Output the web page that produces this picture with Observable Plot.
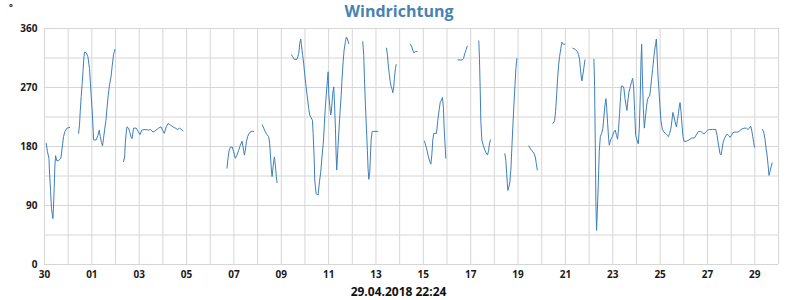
<!DOCTYPE html>
<html>
<head>
<meta charset="utf-8">
<script src="https://cdn.jsdelivr.net/npm/d3@7"></script>
<script src="https://cdn.jsdelivr.net/npm/@observablehq/plot@0.6"></script>
<style>
  html, body { margin: 0; padding: 0; background: #fff; }
  #wrap { position: relative; width: 800px; height: 300px; overflow: hidden; font-family: "Open Sans", sans-serif; }
  #chart { position: absolute; left: 0; top: 0; }
  #title { position: absolute; left: 0; top: 0; width: 798px; text-align: center; font-weight: bold; font-size: 16px; line-height: 22px; color: #4682b4; }
  #unit { position: absolute; left: 9px; top: 0; font-size: 9px; line-height: 13px; font-weight: bold; color: #222; }
  #caption { position: absolute; left: 0; top: 285px; width: 797px; text-align: center; font-weight: bold; font-size: 12px; line-height: 14px; color: #111; }
</style>
</head>
<body>
<div id="wrap">
  <div id="chart"></div>
  <div id="title">Windrichtung</div>
  <div id="unit">°</div>
  <div id="caption">29.04.2018 22:24</div>
</div>
<script>
// start of the period (left edge of the chart), UTC
const startMs = Date.UTC(2018, 3, 29, 22, 24);
const hourMs = 3600e3;
const dayMs = 864e5;

// x-axis tick labels (every second day) and their day offsets
const tickDays   = [0, 2, 4, 6, 8, 10, 12, 14, 16, 18, 20, 22, 24, 26, 28, 30];
const tickLabels = ["30","01","03","05","07","09","11","13","15","17","19","21","23","25","27","29"];
// y-axis labels and grid
const yTicks = [0, 90, 180, 270, 360];
const yGrid  = [0, 45, 90, 135, 180, 225, 270, 315, 360];
const dayGrid = d3.range(0, 32);

// measurement time (hours after start) and wind direction (degrees); null = no data
const hours = [
  1.7,3.0,4.5,5.1,6.1,7.1,8.5,9.1,9.8,10.5,11.2,12.6,14.6,16.6,18.0,19.3,20.7,22.7,25.4, 30,
  34.5,35.5,36.2,37.2,38.2,39.0,40.0,40.6,42.3,44.0,45.6,47.1,48.4,49.4,49.7,52.4,54.2,55.5,56.5,57.8,58.8,59.8,60.9,62.3,63.3,64.6,65.9,67.4,68.7,70.0,71.4, 76,
  80.1,81.2,81.9,82.9,83.6,85.2,86.2,87.6,88.7,90.3,93.0,95.0,96.8,98.6,101.7,105.5,107.2,110.0,112.3,115.6,118.1,119.7,121.4,123.4,125.2,127.5,130.2,132.6,134.9,136.9,138.7,140.4, 160,
  185.0,186.0,187.1,188.4,190.4,191.7,193.4,195.2,196.8,198.5,200.2,201.3,202.6,203.6,204.6,205.9,207.3,209.4,212.0, 216,
  220.8,222.2,223.9,225.6,227.2,228.2,229.0,230.0,230.7,231.7,233.0,234.0,235.0,235.7, 243,
  250.3,251.6,253.0,256.0,257.7,258.7,259.7,260.4,261.7,262.7,
  263.7,264.8,265.8,266.8,267.8,268.8,270.2,271.6,272.3,273.3,
  273.9,275.3,277.3,278.7,280.0,281.4,282.7,283.7,284.7,285.8,
  286.8,287.5,288.1,289.1,290.1,290.8,291.5,292.1,293.2,293.9,
  294.9,295.6,296.2,296.9,297.6,298.6,299.6,300.7,301.7,302.7,
  303.7,305.0,306.0,307.0,308.4, 315,
  322.6,323.6,324.3,325.3,326.3,327.3,328.0,328.7,329.7,330.4,331.1,332.1,333.7,337.8, 342,
  346.6,347.6,348.3,349.4,350.4,351.4,352.4,353.0,354.0,354.7,355.7,356.5, 364,
  371.0,372.3,373.3,374.3,376.1,377.8, 381,
  385.2,386.5,387.9,389.2,390.5,391.6,392.6,393.6,394.6,397.3,398.7,400.1,401.1,402.4,403.4,404.4,405.1,406.2,406.8, 413,
  419.0,423.4,424.7,426.0,427.5,428.5, 434,
  440.2,440.9,441.6,442.3,443.3,444.7,446.0,447.4,449.1,450.1,451.1,452.1, 460,
  466.6,467.6,468.4,469.1,469.7,470.7,471.7,472.7,473.7,474.7,475.8,476.8,477.8,478.8, 485,
  491.0,492.7,494.4,496.0,497.5,498.5,499.5, 507,
  515.3,517.0,518.0,519.1,520.1,521.1,522.1,523.4,524.4,525.9,527.2, 531,
  535.6,538.0,540.1,541.4,542.4,543.1,544.1,544.7,545.7,546.8,547.8, 552,
  556.9,557.6,558.3,558.9,559.6,560.3,561.3,562.3,563.4,564.7,
  566.0,567.0,568.1,569.1,569.8,570.8,571.8,572.5,573.8,575.5,
  577.1,578.5,579.8,580.9,581.9,582.9,583.9,584.7,586.3,587.3,
  588.4,589.4,590.4,591.4,592.4,593.8,595.1,596.2,597.2,598.2,
  599.2,600.5,601.9,602.9,603.9,604.6,605.3,606.0,607.0,608.0,
  609.1,610.1,611.1,612.4,613.4,614.4,615.4,616.5,617.5,618.5,
  619.5,620.2,620.8,621.8,622.8,623.8,624.8,626.3,627.9,629.6,
  631.4,632.4,633.7,635.0,636.0,637.0,638.1,639.1,640.5,641.5,
  642.6,643.2,644.2,645.2,646.2,647.2,648.2,650.7,653.3,656.0,
  658.8,660.8,662.8,665.1,666.8,668.5,670.2,672.2,674.3,677.0,
  680.4,681.7,682.7,683.7,684.7,685.8,686.8,687.8,689.2,690.5,
  691.8,693.3,694.9,696.3,697.6,699.4,702.4,704.0,706.1,709.1,
  711.5,713.1,714.5,715.8,716.8,717.9,718.9,719.6, 724,
  728.0,729.3,730.4,731.4,732.4,733.4,734.4,735.4,736.5,737.5
];
const direction = [
  185,172,162,141,113,85,70,86,116,149,166,158,159,162,179,195,203,208,209, null,
  200,213,233,256,276,294,317,324,323,317,299,263,233,203,190,190,197,205,195,186,181,192,205,220,238,258,274,286,304,320,328, null,
  157,164,185,202,210,208,203,195,192,208,208,203,198,205,206,205,206,202,204,208,210,205,200,210,215,213,210,208,206,208,206,204, null,
  147,162,174,179,179,172,162,167,174,182,188,179,167,174,187,195,200,203,203, null,
  213,208,202,198,195,185,167,144,134,149,164,152,134,125, null,
  320,317,313,313,322,337,344,335,319,307,
  291,276,263,251,238,228,224,220,200,164,
  129,108,106,126,141,167,187,215,240,263,
  281,294,261,243,228,234,248,261,271,248,
  208,167,144,164,182,208,233,258,286,309,
  327,340,347,344,337, null,
  340,319,284,243,208,174,146,130,141,167,190,203,203,203, null,
  330,320,307,291,279,271,267,262,271,284,299,305, null,
  336,332,327,323,325,325, null,
  188,181,173,164,157,153,167,190,200,200,220,237,247,251,255,238,208,178,162, null,
  312,312,314,322,328,333, null,
  341,314,269,218,190,182,176,171,167,174,185,190, null,
  169,159,141,124,113,118,126,144,177,210,243,271,299,314, null,
  181,176,173,170,164,154,144, null,
  215,219,233,258,284,304,317,330,339,336,336, null,
  330,328,325,320,312,300,286,280,289,301,312, null,
  313,271,182,96,52,80,121,172,195,200,
  208,225,243,253,240,215,192,182,190,195,
  202,205,197,191,208,230,256,272,272,269,
  253,243,235,251,263,271,279,284,269,233,
  197,190,184,208,258,309,336,289,238,208,
  225,239,251,256,257,269,284,299,314,327,
  337,344,324,289,266,243,220,206,202,200,
  197,195,200,208,220,232,225,218,210,220,
  230,239,247,233,213,195,188,188,190,193,
  193,198,203,203,201,199,202,205,206,206,
  206,197,187,178,169,167,176,186,192,196,
  199,197,194,197,201,202,202,203,206,208,
  208,206,208,211,205,195,186,179, null,
  206,200,190,177,167,152,136,142,149,155
];

if (hours.length !== direction.length) {
  throw new Error("length mismatch " + hours.length + " vs " + direction.length);
}

const rows = hours.map((h, i) => ({ t: new Date(startMs + h * hourMs), dir: direction[i] }));
const tickDates = tickDays.map(d => new Date(startMs + d * dayMs));
const labelByTime = new Map(tickDates.map((d, i) => [+d, tickLabels[i]]));
const gridDates = dayGrid.map(d => new Date(startMs + d * dayMs));

const chart = Plot.plot({
  width: 800,
  height: 300,
  marginLeft: 44,
  marginRight: 22,
  marginTop: 28,
  marginBottom: 36,
  style: { fontFamily: "'Open Sans', sans-serif", fontSize: "10px", fontWeight: "bold", color: "#1a1a1a", background: "white", overflow: "visible" },
  x: {
    type: "utc",
    domain: [new Date(startMs), new Date(startMs + 31 * dayMs)],
    ticks: tickDates,
    tickFormat: d => labelByTime.get(+d) ?? "",
    tickSize: 0,
    tickPadding: 6,
    label: null
  },
  y: {
    domain: [0, 360],
    ticks: yTicks,
    tickSize: 0,
    tickPadding: 7,
    label: null
  },
  marks: [
    Plot.ruleX(gridDates, { stroke: "#d6d6d6", strokeOpacity: 1, strokeWidth: 1 }),
    Plot.ruleY(yGrid, { stroke: "#d6d6d6", strokeOpacity: 1, strokeWidth: 1 }),
    Plot.line(rows, { x: "t", y: "dir", stroke: "#3d7fbd", strokeWidth: 1 })
  ]
});
document.getElementById("chart").appendChild(chart);
</script>
</body>
</html>
